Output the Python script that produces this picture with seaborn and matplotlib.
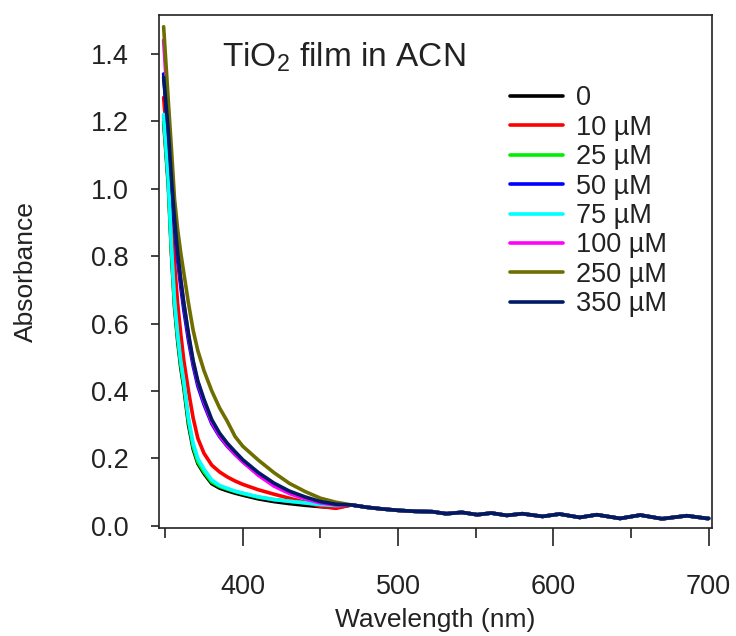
import numpy as np
import pandas as pd
import matplotlib
matplotlib.use('Agg')
import matplotlib.pyplot as plt
from matplotlib.ticker import MultipleLocator
import seaborn as sns

# wavelengths (nm) for the steep part of the spectra
head_wl = [349, 352, 354, 356, 358, 360, 362, 365, 368, 371, 375, 380,
           385, 390, 395, 400, 410, 420, 430, 440, 450, 460]

# absorbance of each sample over head_wl
abs_0 = [1.20, 1.01, 0.81, 0.65, 0.55, 0.47, 0.41, 0.30, 0.228, 0.185, 0.155, 0.125,
         0.112, 0.104, 0.097, 0.091, 0.080, 0.072, 0.066, 0.061, 0.057, 0.054]
abs_10 = [1.27, 1.10, 0.93, 0.78, 0.66, 0.57, 0.49, 0.40, 0.32, 0.26, 0.215, 0.180,
          0.160, 0.145, 0.133, 0.123, 0.107, 0.094, 0.082, 0.070, 0.058, 0.052]
abs_25 = [1.21, 1.02, 0.82, 0.66, 0.56, 0.48, 0.42, 0.31, 0.235, 0.19, 0.16, 0.13,
          0.117, 0.109, 0.102, 0.096, 0.085, 0.078, 0.073, 0.069, 0.066, 0.063]
abs_50 = [1.34, 1.16, 1.01, 0.89, 0.79, 0.71, 0.64, 0.55, 0.475, 0.415, 0.36, 0.303,
          0.265, 0.236, 0.212, 0.190, 0.152, 0.122, 0.099, 0.083, 0.070, 0.063]
abs_75 = [1.22, 1.03, 0.83, 0.67, 0.57, 0.49, 0.43, 0.32, 0.245, 0.20, 0.168, 0.136,
          0.120, 0.111, 0.103, 0.097, 0.086, 0.078, 0.073, 0.068, 0.063, 0.060]
abs_100 = [1.44, 1.22, 1.05, 0.92, 0.81, 0.73, 0.66, 0.565, 0.485, 0.425, 0.368, 0.308,
           0.268, 0.238, 0.213, 0.190, 0.150, 0.118, 0.096, 0.080, 0.068, 0.062]
abs_250 = [1.48, 1.26, 1.12, 0.97, 0.88, 0.81, 0.75, 0.66, 0.58, 0.52, 0.46, 0.40,
           0.35, 0.31, 0.265, 0.236, 0.195, 0.158, 0.126, 0.102, 0.082, 0.070]
abs_350 = [1.33, 1.17, 1.03, 0.91, 0.81, 0.73, 0.66, 0.57, 0.49, 0.43, 0.375, 0.315,
           0.275, 0.245, 0.220, 0.196, 0.158, 0.127, 0.103, 0.086, 0.072, 0.064]

# above ~460 nm all spectra coincide (with small interference wiggles)
tail_wl = [470, 480, 490, 500, 511, 522, 531, 541, 551, 560, 570, 580, 593, 604,
           617, 628, 643, 656, 670, 686, 699, 700]
tail_abs = [0.062, 0.055, 0.050, 0.046, 0.043, 0.042, 0.036, 0.040, 0.033, 0.038,
            0.031, 0.036, 0.028, 0.035, 0.025, 0.033, 0.022, 0.032, 0.021, 0.030,
            0.022, 0.022]

labels = ['0', '10 µM', '25 µM', '50 µM', '75 µM', '100 µM', '250 µM', '350 µM']
colors = ['#000000', '#ff0000', '#00ee00', '#0000ff', '#00ffff', '#ff00ff',
          '#6e6e00', '#001a66']
series = [abs_0, abs_10, abs_25, abs_50, abs_75, abs_100, abs_250, abs_350]

rows = []
for lab, vals in zip(labels, series):
    for w, a in zip(head_wl + tail_wl, vals + tail_abs):
        rows.append({'wl': w, 'abs': a, 'conc': lab})
df = pd.DataFrame(rows)

sns.set_style('white')
plt.rcParams['font.family'] = ['Liberation Sans', 'DejaVu Sans']
plt.rcParams['mathtext.fontset'] = 'custom'
plt.rcParams['mathtext.rm'] = 'Liberation Sans'

fig = plt.figure(figsize=(7.36, 6.36), dpi=100)
ax = fig.add_axes([0.216, 0.170, 0.751, 0.806])

sns.lineplot(data=df, x='wl', y='abs', hue='conc', hue_order=labels,
             palette=dict(zip(labels, colors)), estimator=None, sort=True,
             linewidth=2.6, ax=ax)

ax.set_xlim(346, 702)
ax.set_ylim(-0.006, 1.514)
ax.xaxis.set_major_locator(MultipleLocator(100))
ax.xaxis.set_minor_locator(MultipleLocator(50))
ax.yaxis.set_major_locator(MultipleLocator(0.2))
ax.yaxis.set_major_formatter(matplotlib.ticker.FormatStrFormatter('%.1f'))

ink = '#222222'
for s in ax.spines.values():
    s.set_color(ink)
    s.set_linewidth(1.2)
ax.tick_params(axis='x', which='major', direction='out', length=13, width=1.2,
               pad=20, labelsize=19.5, bottom=True, colors=ink)
ax.tick_params(axis='x', which='minor', direction='out', length=7, width=1.2,
               bottom=True, colors=ink)
ax.tick_params(axis='y', which='major', direction='out', length=6, width=1.2,
               pad=16, labelsize=19.5, left=True, colors=ink)

ax.set_xlabel('Wavelength (nm)', fontsize=19, color=ink, labelpad=6)
ax.set_ylabel('Absorbance', fontsize=19, color=ink, labelpad=38)

ax.text(0.114, 0.918, r'TiO$_\mathrm{2}$ film in ACN', transform=ax.transAxes,
        fontsize=24, color=ink, va='center', ha='left')

ax.legend(loc='upper left', bbox_to_anchor=(0.635, 0.863), frameon=False,
          fontsize=19.5, handlelength=1.95, handletextpad=0.5, labelspacing=0.125,
          borderpad=0, borderaxespad=0, title=None)
for t in ax.get_legend().get_texts():
    t.set_color(ink)
for ln in ax.get_legend().get_lines():
    ln.set_linewidth(2.6)

fig.savefig('out.png', dpi=100)
